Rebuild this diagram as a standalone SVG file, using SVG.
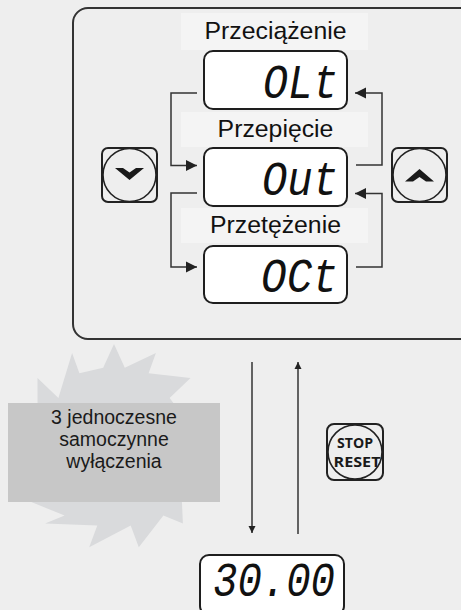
<svg xmlns="http://www.w3.org/2000/svg" width="461" height="610" viewBox="0 0 461 610">
  <defs>
    <style>
      .bg { fill: #eeeeee; }
      .panel { fill: #eeeeee; stroke: #333333; stroke-width: 2; }
      .lblbg { fill: #f4f4f4; }
      .lbl { font-family: "Liberation Sans", Arial, sans-serif; font-size: 24.8px; fill: #111111; text-anchor: middle; }
      .disp { fill: #ffffff; stroke: #1e1e1e; stroke-width: 2; }
      .seg { font-family: "Liberation Mono", "DejaVu Sans Mono", monospace; font-style: italic; font-size: 48px; fill: #111111; text-anchor: end; }
      .conn { fill: none; stroke: #333333; stroke-width: 1.5; }
      .btn { fill: none; stroke: #222222; stroke-width: 2; }
      .btnc { fill: none; stroke: #222222; stroke-width: 1.6; }
      .chev { fill: #1a1a1a; }
      .note { font-family: "Liberation Sans", Arial, sans-serif; font-size: 19.5px; fill: #1a1a1a; text-anchor: middle; }
      .key { font-family: "Open Sans", "Liberation Sans", sans-serif; font-weight: bold; font-size: 14px; fill: #1a1a1a; text-anchor: middle; }
    </style>
    <marker id="ah" viewBox="0 0 10 10" refX="10" refY="5" markerWidth="7" markerHeight="7.5" markerUnits="userSpaceOnUse" orient="auto">
      <path d="M0,0 L10,5 L0,10 Z" fill="#222222"/>
    </marker>
    <marker id="ahs" viewBox="0 0 10 10" refX="10" refY="5" markerWidth="11" markerHeight="11.5" markerUnits="userSpaceOnUse" orient="auto">
      <path d="M0,0 L10,5 L0,10 Z" fill="#222222"/>
    </marker>
  </defs>

  <rect class="bg" x="0" y="0" width="461" height="610"/>

  <g id="panel">
    <rect class="panel" x="73" y="8" width="402" height="331" rx="15" ry="15"/>
  </g>

  <g id="label-przeciazenie">
    <rect class="lblbg" x="181" y="13" width="187" height="37"/>
    <text class="lbl" x="275.5" y="39">Przeciążenie</text>
  </g>
  <g id="display-olt">
    <rect class="disp" x="204" y="51" width="143" height="58" rx="9" ry="9"/>
    <text class="seg" x="338" y="98" textLength="75" lengthAdjust="spacingAndGlyphs">OLt</text>
  </g>

  <g id="label-przepiecie">
    <rect class="lblbg" x="181" y="112" width="187" height="35"/>
    <text class="lbl" x="275.5" y="137">Przepięcie</text>
  </g>
  <g id="display-out">
    <rect class="disp" x="204" y="148" width="143" height="58" rx="9" ry="9"/>
    <text class="seg" x="338" y="195" textLength="76" lengthAdjust="spacingAndGlyphs">Out</text>
  </g>

  <g id="label-przetezenie">
    <rect class="lblbg" x="181" y="208" width="187" height="35"/>
    <text class="lbl" x="275.5" y="233">Przetężenie</text>
  </g>
  <g id="display-oct">
    <rect class="disp" x="204" y="246" width="143" height="57" rx="9" ry="9"/>
    <text class="seg" x="338" y="292" textLength="77" lengthAdjust="spacingAndGlyphs">OCt</text>
  </g>

  <g id="button-down">
    <rect class="btn" x="102" y="148" width="55" height="54" rx="6" ry="6"/>
    <circle class="btnc" cx="129.5" cy="175" r="26.5"/>
    <polygon class="chev" points="115,168 123,168 129.5,172.5 136,168 144,168 129.5,180"/>
  </g>

  <g id="button-up">
    <rect class="btn" x="392" y="148" width="55" height="54" rx="6" ry="6"/>
    <circle class="btnc" cx="419.5" cy="175" r="26.5"/>
    <polygon class="chev" points="405,181.5 413,181.5 419.5,177 426,181.5 434,181.5 419.5,169"/>
  </g>

  <g id="burst">
    <polygon fill="#d9dadc" points="114,344 124.8,367.7 155.9,352.9 148.6,373.3 190.5,378.1 169.6,398.1 214.7,457.8 190.4,447.2 207.7,497.5 181.2,484.9 182.9,523.5 163.4,515.6 138.8,547.3 130.7,525.6 89.2,547.3 97.3,525.6 45.1,523.5 64.6,515.6 20.3,497.5 46.8,484.9 13.3,447.2 37.6,457.8 37.5,378.1 58.4,398.1 72.1,352.9 79.4,373.3 103.2,367.7"/>
    <rect fill="#c7c7c7" x="8" y="403" width="212" height="99"/>
    <text class="note" x="114" y="424">3 jednoczesne</text>
    <text class="note" x="114" y="446">samoczynne</text>
    <text class="note" x="114" y="468">wyłączenia</text>
  </g>

  <g id="button-stop-reset">
    <rect class="btn" x="327" y="424" width="56" height="56" rx="7" ry="7"/>
    <circle class="btnc" cx="355" cy="452" r="27"/>
    <text class="key" x="355" y="448" textLength="36" lengthAdjust="spacingAndGlyphs">STOP</text>
    <text class="key" x="357" y="466.5" textLength="47" lengthAdjust="spacingAndGlyphs">RESET</text>
  </g>

  <g id="display-3000">
    <rect class="disp" x="200" y="555" width="144" height="60" rx="9" ry="9"/>
    <text class="seg" x="335" y="596" font-size="46" textLength="122" lengthAdjust="spacingAndGlyphs">30.00</text>
  </g>

  <g id="connectors">
    <path class="conn" d="M197,93 H171 V165.5 H197" marker-end="url(#ahs)"/>
    <path class="conn" d="M197,193 H171 V267 H197" marker-end="url(#ahs)"/>
    <path class="conn" d="M356,165 H382 V93 H355" marker-end="url(#ahs)"/>
    <path class="conn" d="M356,267 H382 V193.5 H355" marker-end="url(#ahs)"/>
    <path class="conn" d="M252,362 V533" marker-end="url(#ah)"/>
    <path class="conn" d="M298,534 V362" marker-end="url(#ah)"/>
  </g>
</svg>
